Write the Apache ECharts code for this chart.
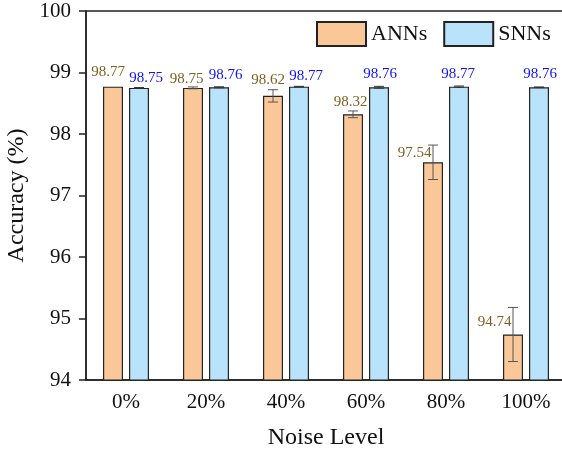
<!DOCTYPE html>
<html>
<head>
<meta charset="utf-8">
<script src="https://cdn.jsdelivr.net/npm/echarts@6/dist/echarts.min.js"></script>
<style>html,body{margin:0;padding:0;background:#fff}#c{width:562px;height:455px}</style>
</head>
<body>
<div id="c"></div>
<script>
const categories = ['0%', '20%', '40%', '60%', '80%', '100%'];
const annValues = [98.77, 98.75, 98.62, 98.32, 97.54, 94.74];
const snnValues = [98.75, 98.76, 98.77, 98.76, 98.77, 98.76];
const annErrors = [0, 0.015, 0.1, 0.055, 0.28, 0.44];
const snnErrors = [0.005, 0.008, 0.005, 0.015, 0.01, 0.005];
const yMin = 94, yMax = 100, yStep = 1;

// label styling offsets (pixels, relative to bar top)
const annLabelDx = [-5, -6.5, -5, -2.5, 0, 0];
const annLabelDy = [-15, -9, -15.5, -12, -9, -12];
const annLabelLeft = [false, false, false, false, true, true];
const snnLabelDx = [7, 6.5, 7, 1, -1, 1];
const snnLabelDy = [-9.5, -12, -11, -13, -12.5, -13];

const FONT = 'Liberation Serif';
const BAR_SHIFT = 13;

function makeErr(values, errors, shift, errColor, labelColor, dxArr, dyArr, leftArr) {
  return {
    type: 'custom',
    z: 5,
    data: values.map((v, i) => [i, v, errors[i]]),
    encode: { x: 0, y: 1 },
    silent: true,
    renderItem: function (params, api) {
      const i = api.value(0), v = api.value(1), e = api.value(2);
      const top = api.coord([i, v + e]);
      const bot = api.coord([i, v - e]);
      const base = api.coord([i, v]);
      const cx = top[0] + shift;
      const children = [];
      if (e > 0) {
        const st = { stroke: errColor, lineWidth: 1 };
        children.push({ type: 'line', shape: { x1: cx, y1: top[1], x2: cx, y2: bot[1] }, style: st });
        children.push({ type: 'line', shape: { x1: cx - 5, y1: top[1], x2: cx + 5, y2: top[1] }, style: st });
        children.push({ type: 'line', shape: { x1: cx - 5, y1: bot[1], x2: cx + 5, y2: bot[1] }, style: st });
      }
      const left = leftArr && leftArr[i];
      children.push({
        type: 'text',
        style: {
          text: v.toFixed(2),
          x: left ? cx - 1.5 : cx + dxArr[i],
          y: base[1] + dyArr[i],
          fill: labelColor,
          fontSize: 15,
          fontFamily: FONT,
          align: left ? 'right' : 'center',
          verticalAlign: 'middle',
          textAlign: left ? 'right' : 'center',
          textVerticalAlign: 'middle'
        }
      });
      return { type: 'group', children: children };
    }
  };
}

const chart = echarts.init(document.getElementById('c'), null, { renderer: 'canvas' });
chart.setOption({
  animation: false,
  grid: { left: 86, width: 480, top: 11, bottom: 75, containLabel: false, outerBoundsMode: 'none', show: true, borderColor: '#222', borderWidth: 1.5, backgroundColor: 'transparent' },
  legend: {
    left: 311, top: 16,
    itemWidth: 49, itemHeight: 24, itemGap: 16,
    icon: 'rect',
    textStyle: { fontFamily: FONT, fontSize: 22, color: '#111' },
    data: ['ANNs', 'SNNs']
  },
  xAxis: {
    type: 'category',
    data: categories,
    axisLine: { lineStyle: { color: '#222', width: 1.5 } },
    axisTick: { alignWithLabel: true, length: 7, lineStyle: { color: '#222', width: 1.5 } },
    axisLabel: { fontFamily: FONT, fontSize: 21, color: '#111', margin: 12 },
    name: 'Noise Level',
    nameLocation: 'middle',
    nameGap: 46,
    nameTextStyle: { fontFamily: FONT, fontSize: 24, color: '#111' }
  },
  yAxis: {
    type: 'value',
    min: yMin, max: yMax, interval: yStep,
    splitLine: { show: false },
    axisLine: { show: true, lineStyle: { color: '#222', width: 1.5 } },
    axisTick: { show: true, length: 7, lineStyle: { color: '#222', width: 1.5 } },
    axisLabel: { fontFamily: FONT, fontSize: 21, color: '#111', margin: 15 },
    name: 'Accuracy (%)',
    nameLocation: 'middle',
    nameGap: 49,
    nameTextStyle: { fontFamily: FONT, fontSize: 24, color: '#111' }
  },
  series: [
    {
      name: 'ANNs', type: 'bar', data: annValues, barWidth: 20, barGap: '30%',
      itemStyle: { color: '#FAC898', borderColor: '#222', borderWidth: 1.2 }
    },
    {
      name: 'SNNs', type: 'bar', data: snnValues, barWidth: 20, barGap: '30%',
      itemStyle: { color: '#B9E3FA', borderColor: '#222', borderWidth: 1.2 }
    },
    makeErr(annValues, annErrors, -BAR_SHIFT, '#555', '#806020', annLabelDx, annLabelDy, annLabelLeft),
    makeErr(snnValues, snnErrors, BAR_SHIFT, '#333', '#1010ff', snnLabelDx, snnLabelDy, null)
  ]
});
</script>
</body>
</html>
